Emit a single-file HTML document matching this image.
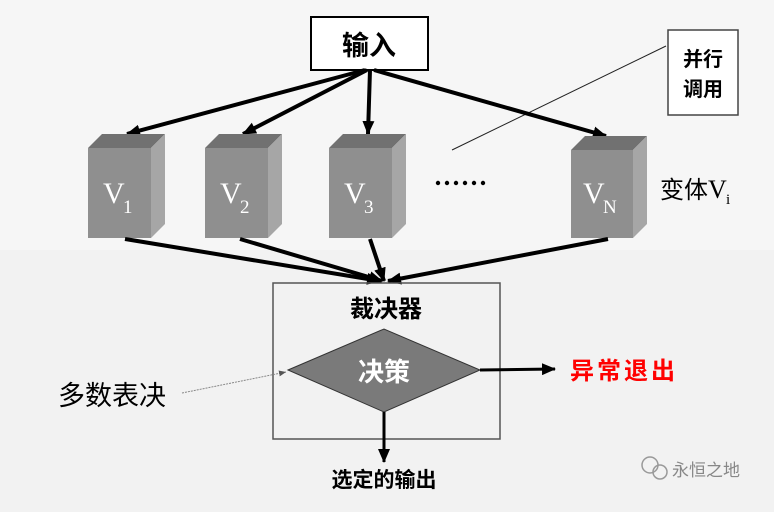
<!DOCTYPE html><html><head><meta charset="utf-8"><style>
body{margin:0;width:774px;height:507px;background:#f2f2f2;overflow:hidden;font-family:"Liberation Sans","Noto Sans CJK SC",sans-serif}
</style></head><body>
<svg width="774" height="507" viewBox="0 0 774 507" xmlns="http://www.w3.org/2000/svg">
<defs>
<marker id="b" markerWidth="14" markerHeight="12" refX="13" refY="6" orient="auto" markerUnits="userSpaceOnUse"><path d="M0,0 L14,6 L0,12z" fill="#000"/></marker>
<marker id="c" markerWidth="7" markerHeight="6" refX="7" refY="3" orient="auto" markerUnits="userSpaceOnUse"><path d="M0,0 L7,3 L0,6z" fill="#555"/></marker></defs>
<rect x="0" y="0" width="774" height="250" fill="#f6f6f6"/>
<rect x="311" y="17" width="117" height="53" fill="#fff" stroke="#000" stroke-width="2"/>
<text x="369" y="55" font-size="27" font-weight="bold" text-anchor="middle">输入</text>
<rect x="668" y="30" width="70" height="85" fill="#fff" stroke="#444" stroke-width="1.5"/>
<text x="703" y="66" font-size="20" font-weight="bold" text-anchor="middle">并行</text>
<text x="703" y="96" font-size="20" font-weight="bold" text-anchor="middle">调用</text>
<line x1="666" y1="46" x2="452" y2="150" stroke="#222" stroke-width="1"/>
<g stroke="#000" stroke-width="4" fill="none" marker-end="url(#b)">
<line x1="365" y1="70" x2="127" y2="134"/><line x1="367" y1="70" x2="243" y2="134"/><line x1="370" y1="70" x2="368" y2="134"/><line x1="374" y1="70" x2="606" y2="136"/>
</g>
<g>
<g><polygon points="88,148 102,134 165,134 151,148" fill="#717171"/><polygon points="151,148 165,134 165,224 151,238" fill="#a6a6a6"/><rect x="88" y="148" width="63" height="90" fill="#8f8f8f"/><text x="103" y="203" font-size="30" fill="#fff" font-family="Liberation Serif,serif">V</text><text x="123" y="213" font-size="19" fill="#fff" font-family="Liberation Serif,serif">1</text></g>
<g><polygon points="205,148 219,134 282,134 268,148" fill="#717171"/><polygon points="268,148 282,134 282,224 268,238" fill="#a6a6a6"/><rect x="205" y="148" width="63" height="90" fill="#8f8f8f"/><text x="220" y="203" font-size="30" fill="#fff" font-family="Liberation Serif,serif">V</text><text x="240" y="213" font-size="19" fill="#fff" font-family="Liberation Serif,serif">2</text></g>
<g><polygon points="329,148 343,134 406,134 392,148" fill="#717171"/><polygon points="392,148 406,134 406,224 392,238" fill="#a6a6a6"/><rect x="329" y="148" width="63" height="90" fill="#8f8f8f"/><text x="344" y="203" font-size="30" fill="#fff" font-family="Liberation Serif,serif">V</text><text x="364" y="213" font-size="19" fill="#fff" font-family="Liberation Serif,serif">3</text></g>
<g><polygon points="571,150 585,136 647,136 633,150" fill="#717171"/><polygon points="633,150 647,136 647,224 633,238" fill="#a6a6a6"/><rect x="571" y="150" width="62" height="88" fill="#8f8f8f"/><text x="583" y="203" font-size="30" fill="#fff" font-family="Liberation Serif,serif">V</text><text x="603" y="213" font-size="19" fill="#fff" font-family="Liberation Serif,serif">N</text></g>
</g>
<g fill="#000"><circle cx="438" cy="183" r="2.2"/><circle cx="447" cy="183" r="2.2"/><circle cx="456" cy="183" r="2.2"/><circle cx="465" cy="183" r="2.2"/><circle cx="474" cy="183" r="2.2"/><circle cx="483" cy="183" r="2.2"/></g>
<text x="660" y="198" font-size="24">变体</text><text x="708" y="198" font-size="26" font-family="Liberation Serif,serif">V</text><text x="726" y="204" font-size="15" font-family="Liberation Serif,serif">i</text>
<g stroke="#000" stroke-width="4" fill="none" marker-end="url(#b)">
<line x1="125" y1="239" x2="380" y2="281"/><line x1="240" y1="239" x2="382" y2="281"/><line x1="370" y1="239" x2="384" y2="281"/><line x1="608" y1="239" x2="388" y2="281"/>
</g>
<rect x="273" y="283" width="227" height="156" fill="none" stroke="#555" stroke-width="1.5"/>
<text x="386" y="317" font-size="24" font-weight="bold" text-anchor="middle">裁决器</text>
<polygon points="288,370 384,329 480,370 384,412" fill="#7a7a7a" stroke="#333" stroke-width="1"/>
<text x="384" y="381" font-size="26" font-weight="bold" fill="#fff" text-anchor="middle">决策</text>
<line x1="480" y1="370" x2="555" y2="369" stroke="#000" stroke-width="3" marker-end="url(#b)"/>
<text x="570" y="379" font-size="24" font-weight="bold" fill="#f00" letter-spacing="3">异常退出</text>
<line x1="384" y1="412" x2="384" y2="462" stroke="#000" stroke-width="3" marker-end="url(#b)"/>
<text x="384" y="487" font-size="21" font-weight="bold" text-anchor="middle">选定的输出</text>
<text x="58" y="405" font-size="27">多数表决</text>
<line x1="182" y1="393" x2="286" y2="372" stroke="#888" stroke-width="1" stroke-dasharray="2,1" marker-end="url(#c)"/>
<circle cx="650" cy="465" r="8" fill="none" stroke="#999" stroke-width="1.5"/><circle cx="660" cy="472" r="7" fill="none" stroke="#999" stroke-width="1.5"/>
<text x="672" y="476" font-size="17" fill="#888">永恒之地</text>
</svg>
</body></html>
